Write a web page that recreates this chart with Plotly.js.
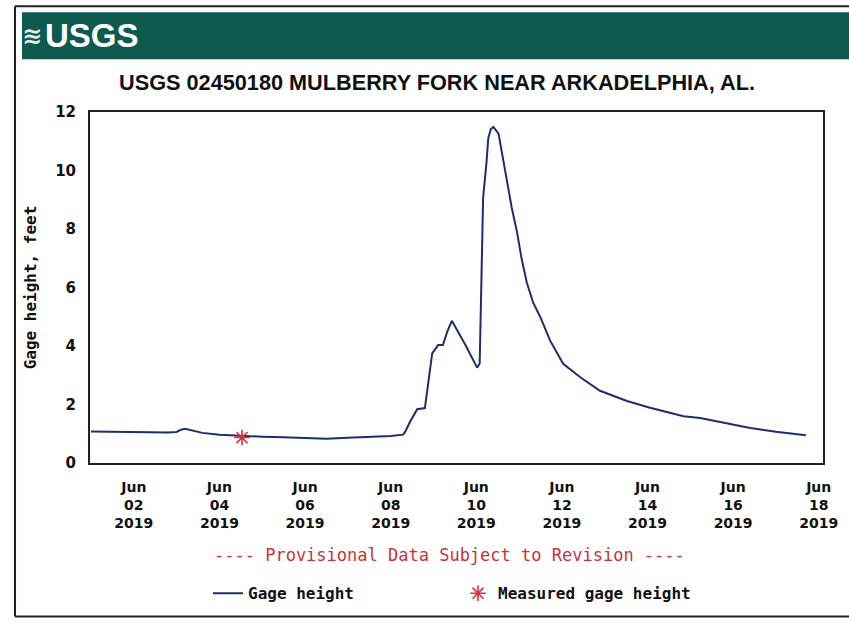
<!DOCTYPE html>
<html>
<head>
<meta charset="utf-8">
<script src="https://cdn.plot.ly/plotly-3.0.1.min.js"></script>
<style>
html,body{margin:0;padding:0;background:#ffffff;}
#chart{width:849px;height:623px;}
</style>
</head>
<body>
<div id="chart"></div>
<script>
// Gage height series (time, feet)
const gageTimes = [
  "2019-06-01 00:00","2019-06-01 12:00","2019-06-02 00:00","2019-06-02 12:00","2019-06-02 19:12",
  "2019-06-03 00:00","2019-06-03 02:24","2019-06-03 04:48","2019-06-03 08:24","2019-06-03 14:24",
  "2019-06-04 00:00","2019-06-04 12:00","2019-06-05 00:00","2019-06-05 12:00","2019-06-06 00:00",
  "2019-06-06 12:00","2019-06-07 00:00","2019-06-07 12:00","2019-06-08 00:00","2019-06-08 07:00",
  "2019-06-08 08:10","2019-06-08 10:48","2019-06-08 14:53","2019-06-08 19:12","2019-06-08 20:53",
  "2019-06-08 23:17","2019-06-09 02:38","2019-06-09 05:17","2019-06-09 07:41","2019-06-09 10:19",
  "2019-06-09 17:46","2019-06-10 00:29","2019-06-10 01:55","2019-06-10 02:53","2019-06-10 03:50",
  "2019-06-10 05:46","2019-06-10 06:43","2019-06-10 08:10","2019-06-10 09:36","2019-06-10 12:29",
  "2019-06-10 15:07","2019-06-10 17:02","2019-06-10 19:55","2019-06-10 22:48","2019-06-11 01:26",
  "2019-06-11 04:19","2019-06-11 07:55","2019-06-11 11:46","2019-06-11 17:17","2019-06-12 00:43",
  "2019-06-12 10:19","2019-06-12 21:22","2019-06-13 12:29","2019-06-14 01:26","2019-06-14 20:10",
  "2019-06-15 05:31","2019-06-16 00:14","2019-06-16 09:36","2019-06-17 00:00","2019-06-17 15:22",
  "2019-06-17 16:48"
];
const gageHeight = [
  1.08,1.07,1.05,1.04,1.04,
  1.06,1.14,1.17,1.11,1.03,
  0.97,0.93,0.90,0.88,0.85,
  0.83,0.86,0.88,0.92,0.97,
  1.07,1.40,1.84,1.88,2.71,
  3.75,4.03,4.03,4.48,4.86,
  4.05,3.26,3.40,6.00,9.06,
  10.30,11.10,11.42,11.49,11.26,
  10.34,9.64,8.72,7.91,6.98,
  6.17,5.48,5.01,4.20,3.39,
  2.93,2.47,2.12,1.89,1.60,
  1.54,1.31,1.20,1.07,0.96,
  0.95
];
// Field measurement
const measuredTimes = ["2019-06-04 12:40"];
const measuredHeight = [0.87];
// Axis ticks
const xTickVals = ["2019-06-02","2019-06-04","2019-06-06","2019-06-08","2019-06-10","2019-06-12","2019-06-14","2019-06-16","2019-06-18"];
const xTickText = ["Jun<br>02<br>2019","Jun<br>04<br>2019","Jun<br>06<br>2019","Jun<br>08<br>2019","Jun<br>10<br>2019","Jun<br>12<br>2019","Jun<br>14<br>2019","Jun<br>16<br>2019","Jun<br>18<br>2019"];
const yTickVals = [0,2,4,6,8,10,12];

const boldMono = {family:"DejaVu Sans Mono", size:16, color:"#111", weight:"bold"};
const boldSans = {family:"DejaVu Sans", size:14, color:"#111", weight:"bold"};

const traces = [
  {x:gageTimes, y:gageHeight, type:"scatter", mode:"lines", name:"Gage height",
   line:{color:"#1c2f6b", width:2}},
  {x:measuredTimes, y:measuredHeight, type:"scatter", mode:"markers", name:"Measured gage height",
   marker:{symbol:"asterisk-open", size:13, color:"#e0303a", line:{color:"#e0303a", width:1.6}}}
];

const layout = {
  width:849, height:623,
  margin:{l:90, r:26, t:112, b:160, pad:0},
  paper_bgcolor:"#ffffff", plot_bgcolor:"#ffffff",
  showlegend:true,
  title:{text:"USGS 02450180 MULBERRY FORK NEAR ARKADELPHIA, AL.",
    xref:"container", yref:"container", x:0.5147, y:0.868, xanchor:"center", yanchor:"middle",
    font:{family:"Liberation Sans, Arial", size:21.7, color:"#111", weight:"bold"}},
  xaxis:{type:"date", range:["2019-05-31 23:26","2019-06-18 02:24"],
    tickmode:"array", tickvals:xTickVals, ticktext:xTickText, ticks:"", ticklabelstandoff:10,
    showgrid:false, zeroline:false, showline:true, mirror:true, linecolor:"#222", linewidth:2,
    tickfont:boldSans, fixedrange:true},
  yaxis:{range:[0,12], tickmode:"array", tickvals:yTickVals, ticks:"", ticklabelstandoff:9,
    showgrid:false, zeroline:false, showline:true, mirror:true, linecolor:"#222", linewidth:2,
    tickfont:{family:"DejaVu Sans", size:15, color:"#111", weight:"bold"},
    title:{text:"Gage height, feet", font:boldMono, standoff:15}},
  legend:{orientation:"h", xref:"container", yref:"container", x:0.2450, xanchor:"left", y:0.075, yanchor:"top",
    entrywidth:205, entrywidthmode:"pixels", font:boldMono, bgcolor:"rgba(0,0,0,0)"},
  shapes:[
    {type:"rect", xref:"paper", yref:"paper", x0:-0.0928, x1:1.04, y0:1.1506, y1:1.2841,
     fillcolor:"#0e5a4e", line:{width:0}},
    {type:"line", xref:"paper", yref:"paper", x0:-0.1023, x1:1.04, y0:1.3011, y1:1.3011, line:{color:"#222", width:2}},
    {type:"line", xref:"paper", yref:"paper", x0:-0.1023, x1:-0.1023, y0:1.3011, y1:-0.4375, line:{color:"#222", width:2}},
    {type:"line", xref:"paper", yref:"paper", x0:-0.1023, x1:1.04, y0:-0.4375, y1:-0.4375, line:{color:"#222", width:2}}
  ],
  annotations:[
    {xref:"paper", yref:"paper", x:-0.0955, y:1.217, xanchor:"left", yanchor:"middle", showarrow:false,
     text:"≋", font:{family:"DejaVu Sans", size:24, color:"#dfe9e6", weight:"bold"}},
    {xref:"paper", yref:"paper", x:-0.0640, y:1.217, xanchor:"left", yanchor:"middle", showarrow:false,
     text:"USGS", font:{family:"Liberation Sans, Arial", size:33, color:"#ffffff", weight:"bold"}},
    {xref:"paper", yref:"paper", x:0.4898, y:-0.2614, xanchor:"center", yanchor:"middle", showarrow:false,
     text:"---- Provisional Data Subject to Revision ----",
     font:{family:"DejaVu Sans Mono", size:17, color:"#c8323a"}}
  ]
};

Plotly.newPlot("chart", traces, layout, {staticPlot:true, displayModeBar:false});
</script>
</body>
</html>
